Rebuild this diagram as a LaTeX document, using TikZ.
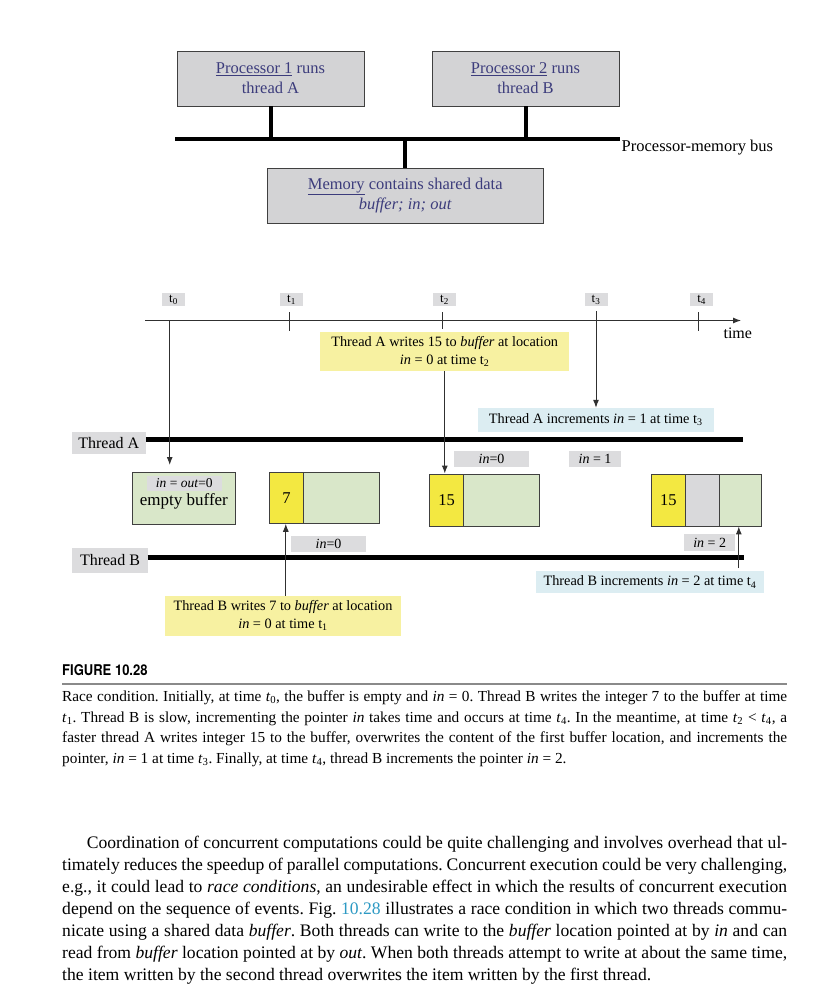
\documentclass[tikz,border=0pt]{standalone}
\usepackage{fontspec}
\setmainfont{Liberation Serif}
\newfontfamily\figheadfont[FakeStretch=0.88]{TeX Gyre Heros}
\usetikzlibrary{arrows.meta}
\definecolor{procfill}{HTML}{D3D3D5}
\definecolor{boxline}{HTML}{404040}
\definecolor{proctext}{HTML}{3C3C7C}
\definecolor{labgray}{HTML}{DCDCDE}
\definecolor{bgreen}{HTML}{D9E7C9}
\definecolor{ycell}{HTML}{F3E841}
\definecolor{ynote}{HTML}{F7F1A1}
\definecolor{bnote}{HTML}{DCEDF2}
\definecolor{cgray}{HTML}{D9D9DB}
\definecolor{rulegray}{HTML}{8A8A8A}
\definecolor{linkblue}{HTML}{2D9AC4}
\definecolor{connc}{HTML}{303030}
\tikzset{
  procbox/.style={draw=boxline, line width=0.9pt, fill=procfill, text=proctext,
    inner sep=0pt, align=center, font=\fontsize{16.5}{20}\selectfont},
  busline/.style={line width=4.7pt},
  stubline/.style={line width=4pt},
  axisline/.style={line width=1pt, connc},
  tickline/.style={line width=1pt, connc},
  conn/.style={line width=1pt, connc},
  arr/.style={-{Latex[length=8pt,width=6pt]}},
  tlab/.style={fill=labgray, inner sep=0pt, minimum width=23pt, minimum height=13pt,
    font=\fontsize{13}{13}\selectfont},
  inlab/.style={fill=labgray, inner sep=0pt, font=\fontsize{14}{14}\selectfont},
  notey/.style={fill=ynote, inner sep=0pt, align=center, font=\fontsize{14.3}{18}\selectfont},
  noteb/.style={fill=bnote, inner sep=0pt, align=center, font=\fontsize{14.3}{18}\selectfont},
  thrlab/.style={fill=labgray, inner sep=0pt, font=\fontsize{16}{16}\selectfont},
  thrline/.style={line width=4.7pt},
  cell/.style={draw=boxline, line width=0.9pt, inner sep=0pt, font=\fontsize{16.5}{16.5}\selectfont},
  txtline/.style={anchor=base west, inner sep=0pt},
  capline/.style={txtline, font=\fontsize{15.3}{20}\selectfont},
  bodyline/.style={txtline, font=\fontsize{17.6}{22}\selectfont},
}
\newcommand{\tsb}[2]{\textit{#1}\textsubscript{#2}}
\frenchspacing
\begin{document}
\begin{tikzpicture}[x=1pt,y=-1pt]
\useasboundingbox[fill=white] (0,0) rectangle (830,1007);

% ---------- processors and memory ----------
\node[procbox, minimum width=187pt, minimum height=55pt] (p1) at (270.5,78.5)
  {\underline{Processor 1} runs\\thread A};
\node[procbox, minimum width=187pt, minimum height=55pt] (p2) at (525.5,78.5)
  {\underline{Processor 2} runs\\thread B};
\node[procbox, minimum width=275.5pt, minimum height=55pt] (mem) at (405.25,195.5)
  {\underline{Memory} contains shared data\\\textit{buffer; in; out}};
\coordinate (busL) at (175,139);
\coordinate (busR) at (620,139);
\draw[busline] (busL) -- (busR);
\draw[stubline] (p1.south) -- (p1.south |- busL);
\draw[stubline] (p2.south) -- (p2.south |- busL);
\draw[stubline] (mem.north) -- (mem.north |- busL);
\node[anchor=west, inner sep=0pt, font=\fontsize{16.5}{20}\selectfont] (buslab) at (621.5,147.5)
  {Processor-memory bus};

% ---------- time axis ----------
\coordinate (axL) at (145,320.5);
\coordinate (axR) at (741,320.5);
\draw[axisline, arr] (axL) -- (axR);
\node[inner sep=0pt, font=\fontsize{16}{16}\selectfont] (timelab) at (737.8,333) {time};
\node[tlab] (t0) at (173.5,299.5) {t\textsubscript{0}};
\node[tlab] (t1) at (291.5,299.5) {t\textsubscript{1}};
\node[tlab] (t2) at (444.5,299.5) {t\textsubscript{2}};
\node[tlab] (t3) at (596,299.5) {t\textsubscript{3}};
\node[tlab] (t4) at (701.7,299.5) {t\textsubscript{4}};
\draw[tickline] (289.5,312) -- (289.5,331);
\draw[tickline] (442.5,312) -- (442.5,329);
\draw[tickline] (698.7,312) -- (698.7,331);

% ---------- notes ----------
\node[notey, minimum width=248.6pt, minimum height=38.4pt] (ynA) at (444.7,351.5)
  {Thread A writes 15 to \textit{buffer} at location\\\textit{in} = 0 at time t\textsubscript{2}};
\node[noteb, minimum width=235.5pt, minimum height=23.7pt] (bnA) at (595.75,419.85)
  {Thread A increments \textit{in} = 1 at time t\textsubscript{3}};
\node[noteb, minimum width=228pt, minimum height=22.6pt] (bnB) at (650,582)
  {Thread B increments \textit{in} = 2 at time t\textsubscript{4}};
\node[notey, minimum width=236pt, minimum height=39.7pt] (ynB) at (283,615.85)
  {Thread B writes 7 to \textit{buffer} at location\\\textit{in} = 0 at time t\textsubscript{1}};

% ---------- thread lines ----------
\node[thrlab, minimum width=74.5pt, minimum height=22.3pt] (thA) at (108.75,442.85) {Thread A};
\node[thrlab, minimum width=75.2pt, minimum height=24.7pt] (thB) at (110,560.35) {Thread B};
\coordinate (thAend) at (743.4,439.3);
\coordinate (thBend) at (744.3,557.7);
\draw[thrline] (146,439.3) -- (thAend);
\draw[thrline] (147.6,557.7) -- (thBend);

% ---------- in labels ----------
\node[inlab, minimum width=75pt, minimum height=16.6pt] (inA0) at (491.5,459) {\textit{in}=0};
\node[inlab, minimum width=52pt, minimum height=16.6pt] (inA1) at (595,459) {\textit{in} = 1};
\node[inlab, minimum width=75pt, minimum height=16.3pt] (inB0) at (328.5,544.15) {\textit{in}=0};
\node[inlab, minimum width=50.6pt, minimum height=16.4pt] (inB2) at (709.7,542.5) {\textit{in} = 2};

% ---------- buffers ----------
\node[cell, fill=bgreen, minimum width=102.2pt, minimum height=51.6pt] (b0) at (183.9,498.5) {};
\node[inlab, minimum width=75.4pt, minimum height=14.7pt, font=\fontsize{13.5}{13.5}\selectfont] (b0in) at (184.3,483.3)
  {\textit{in} = \textit{out}=0};
\node[inner sep=0pt, font=\fontsize{17}{17}\selectfont] (b0txt) at (183.9,501) {empty buffer};

\node[cell, fill=ycell, minimum width=33.6pt, minimum height=51pt] (b1y) at (286.5,497.8) {7};
\node[cell, fill=bgreen, minimum width=75.7pt, minimum height=51pt] (b1g) at (341.15,497.8) {};

\node[cell, fill=ycell, minimum width=34.1pt, minimum height=52pt] (b2y) at (446.65,500) {15};
\node[cell, fill=bgreen, minimum width=75.3pt, minimum height=52pt] (b2g) at (501.35,500) {};

\node[cell, fill=ycell, minimum width=34.8pt, minimum height=52pt] (b3y) at (668.4,500) {15};
\node[cell, fill=cgray, minimum width=34.1pt, minimum height=52pt] (b3c) at (702.85,500) {};
\node[cell, fill=bgreen, minimum width=41.1pt, minimum height=52pt] (b3g) at (740.45,500) {};

% ---------- arrows ----------
\coordinate (t0a) at (169.7,320.5);
\coordinate (t0b) at (169.7,465);
\draw[conn, arr] (t0a) -- (t0b);
\coordinate (t3a) at (596,311);
\draw[conn, arr] (t3a) -- (t3a |- bnA.north);
\coordinate (nAx) at (444.8,0);
\draw[conn, arr] (ynA.south -| nAx) -- (b2y.north -| nAx);
\coordinate (nBx) at (285.8,0);
\draw[conn, arr] (ynB.north -| nBx) -- (b1y.south -| nBx);
\coordinate (nCx) at (738.8,0);
\coordinate (nCa) at (738.8,568);
\draw[conn, arr] (nCa) -- (b3g.south -| nCx);

% ---------- caption ----------
\node[anchor=base west, inner sep=0pt, font={\figheadfont\fontsize{14.8}{16}\selectfont\bfseries}] (fighead) at (62,675.7) {FIGURE 10.28};
\coordinate (ruleL) at (62,684);
\coordinate (ruleR) at (787,684);
\draw[line width=1.6pt, rulegray] (ruleL) -- (ruleR);
\node[capline] (c1) at (62,701.5) {\makebox[725pt][s]{Race condition. Initially, at time \tsb{t}{0}, the buffer is empty and \textit{in} = 0. Thread B writes the integer 7 to the buffer at time}};
\node[capline] (c2) at (62,722.1) {\makebox[725pt][s]{\tsb{t}{1}. Thread B is slow, incrementing the pointer \textit{in} takes time and occurs at time \tsb{t}{4}. In the meantime, at time \tsb{t}{2} < \tsb{t}{4}, a}};
\node[capline] (c3) at (62,742.7) {\makebox[725pt][s]{faster thread A writes integer 15 to the buffer, overwrites the content of the first buffer location, and increments the}};
\node[capline] (c4) at (62,763.3) {pointer, \textit{in} = 1 at time \tsb{t}{3}. Finally, at time \tsb{t}{4}, thread B increments the pointer \textit{in} = 2.};

% ---------- body text ----------
\node[bodyline] (l1) at (86.7,848.3) {\makebox[700.3pt][s]{Coordination of concurrent computations could be quite challenging and involves overhead that ul-}};
\node[bodyline] (l2) at (62,870.25) {\makebox[725pt][s]{timately reduces the speedup of parallel computations. Concurrent execution could be very challenging,}};
\node[bodyline] (l3) at (62,892.2) {\makebox[725pt][s]{e.g., it could lead to \textit{race conditions}, an undesirable effect in which the results of concurrent execution}};
\node[bodyline] (l4) at (62,914.15) {\makebox[725pt][s]{depend on the sequence of events. Fig. \textcolor{linkblue}{10.28} illustrates a race condition in which two threads commu-}};
\node[bodyline] (l5) at (62,936.1) {\makebox[725pt][s]{nicate using a shared data \textit{buffer}. Both threads can write to the \textit{buffer} location pointed at by \textit{in} and can}};
\node[bodyline] (l6) at (62,958.05) {\makebox[725pt][s]{read from \textit{buffer} location pointed at by \textit{out}. When both threads attempt to write at about the same time,}};
\node[bodyline] (l7) at (62,980) {the item written by the second thread overwrites the item written by the first thread.};
\end{tikzpicture}
\end{document}
